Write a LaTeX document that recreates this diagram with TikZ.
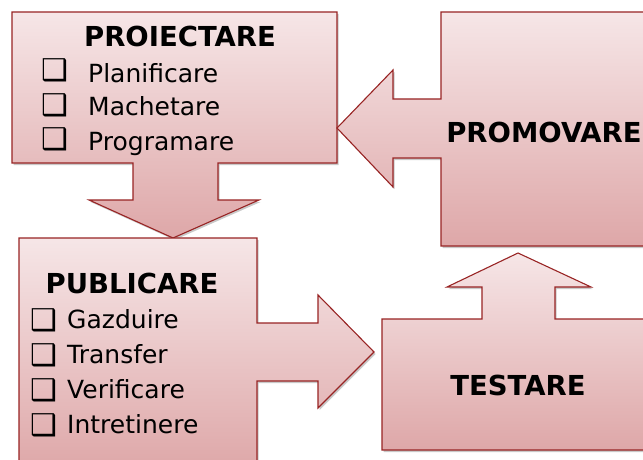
\documentclass[tikz,border=0pt]{standalone}
\usepackage{fontspec}
\setmainfont{DejaVu Sans}
\usetikzlibrary{shadows}

\definecolor{boxtop}{HTML}{F6E6E7}
\definecolor{boxbot}{HTML}{DEA7A8}
\definecolor{boxline}{HTML}{982424}

\tikzset{
    stage/.style={top color=boxtop, bottom color=boxbot, draw=boxline, line width=1.1pt,
        drop shadow={shadow xshift=1.5pt, shadow yshift=-2pt, opacity=0.3, fill=black!70}},
    title/.style={font=\fontsize{27.5}{27.5}\selectfont\bfseries, anchor=base, inner sep=0pt},
    item/.style={font=\fontsize{25}{25}\selectfont, anchor=base west, inner sep=0pt},
    tick/.style={font=\fontsize{30}{30}\selectfont, anchor=base west, inner sep=0pt}
}

\begin{document}
\begin{tikzpicture}[x=1pt, y=-1pt]
        \useasboundingbox (0, 0) rectangle (643, 460);
        \clip (0, 0) rectangle (643, 460);

        % proiectare with arrow down
        \path[stage] (12, 12) -- (337, 12) -- (337, 163) -- (218, 163) -- (218, 200) -- (259, 200)
            -- (173, 238) -- (89, 200) -- (133, 200) -- (133, 163) -- (12, 163) -- cycle;
        \node[title] (proiect) at (180, 47) {PROIECTARE};
        \node[tick] (tick1) at (41, 81) {❑};
        \node[item] (plan) at (88, 82) {Planificare};
        \node[tick] (tick2) at (41, 115) {❑};
        \node[item] (machet) at (88, 116) {Machetare};
        \node[tick] (tick3) at (41, 149) {❑};
        \node[item] (program) at (88, 150) {Programare};

        % promovare with arrow left
        \path[stage] (441, 12) -- (650, 12) -- (650, 246) -- (441, 246) -- (441, 158) -- (393, 158)
            -- (393, 187) -- (337, 128) -- (393, 70) -- (393, 99) -- (441, 99) -- cycle;
        \node[title] (promov) at (544, 142) {PROMOVARE};

        % publicare with arrow right
        \path[stage] (19, 238) -- (257, 238) -- (257, 323) -- (318, 323) -- (318, 295) -- (374, 352)
            -- (318, 408) -- (318, 381) -- (257, 381) -- (257, 470) -- (19, 470) -- cycle;
        \node[title] (public) at (132, 293) {PUBLICARE};
        \node[tick] (tick4) at (30, 330) {❑};
        \node[item] (gazd) at (67, 328) {Gazduire};
        \node[tick] (tick5) at (30, 365) {❑};
        \node[item] (transf) at (67, 363) {Transfer};
        \node[tick] (tick6) at (30, 400) {❑};
        \node[item] (verif) at (67, 398) {Verificare};
        \node[tick] (tick7) at (30, 435) {❑};
        \node[item] (intret) at (67, 433) {Intretinere};

        % testare with arrow up
        \path[stage] (382, 319) -- (482, 319) -- (482, 287) -- (447, 287) -- (518, 253) -- (591, 287)
            -- (555, 287) -- (555, 319) -- (650, 319) -- (650, 450) -- (382, 450) -- cycle;
        \node[title] (testare) at (518, 395) {TESTARE};
\end{tikzpicture}
\end{document}
